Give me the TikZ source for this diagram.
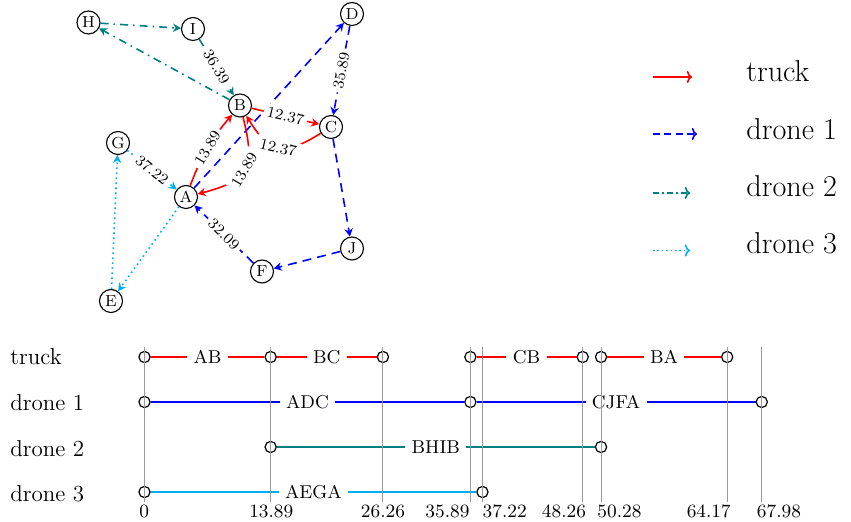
\documentclass[tikz,border=0pt]{standalone}
\usetikzlibrary{arrows.meta}
\definecolor{trk}{RGB}{255,0,0}
\definecolor{dA}{RGB}{0,0,255}
\definecolor{dB}{RGB}{0,128,128}
\definecolor{dC}{RGB}{0,174,239}
\newcommand{\tmx}[1]{144.5+9.08*#1}
\tikzset{
  gnode/.style={circle, draw, line width=0.55pt, minimum size=11.5pt, inner sep=0pt, fill=white, font=\fontsize{8}{9}\selectfont},
  elabel/.style={midway, sloped, fill=white, text=black, inner sep=1.8pt, font=\fontsize{7.7}{9}\selectfont},
  etip/.style={-{Stealth[length=4pt,width=4.2pt,inset=1.3pt]}},
  truckedge/.style={trk, line width=0.8pt, etip},
  droneAedge/.style={dA, line width=0.8pt, dash pattern=on 4.5pt off 3pt, etip},
  droneBedge/.style={dB, line width=0.8pt, dash pattern=on 4pt off 2.5pt on 0.8pt off 2.5pt, etip},
  droneCedge/.style={dC, line width=0.8pt, dash pattern=on 0.8pt off 1.7pt, etip},
  legtip/.style={-{To[length=2.6pt,width=6pt]}},
  legtruck/.style={trk, line width=0.8pt, legtip},
  legA/.style={dA, line width=0.8pt, dash pattern=on 3.5pt off 2.2pt, legtip},
  legB/.style={dB, line width=0.8pt, dash pattern=on 3pt off 1.6pt on 0.8pt off 1.6pt, legtip},
  legC/.style={dC, line width=0.8pt, dash pattern=on 0.8pt off 1.4pt, legtip},
  legtext/.style={anchor=base west, inner sep=0pt, font=\fontsize{15.1}{18}\selectfont},
  rowtext/.style={anchor=base west, inner sep=0pt, font=\fontsize{11.5}{14}\selectfont},
  tcirc/.style={circle, draw=black, line width=0.6pt, minimum size=5.6pt, inner sep=0pt, fill=white},
  seglabel/.style={midway, fill=white, text=black, inner xsep=3.2pt, inner ysep=2pt, font=\fontsize{9.3}{11}\selectfont},
  tline/.style={line width=1pt},
  gridline/.style={gray!80, line width=0.55pt},
  ticklabel/.style={anchor=base, inner sep=0pt, font=\fontsize{9.4}{11}\selectfont}
}
\begin{document}
\begin{tikzpicture}[x=0.5pt,y=-0.5pt]
\useasboundingbox (0,0) rectangle (851,522);

% ---------- graph nodes ----------
\node[gnode] (H) at (88.5,22.5) {H};
\node[gnode] (I) at (193,29) {I};
\node[gnode] (D) at (352,14) {D};
\node[gnode] (B) at (240,105.5) {B};
\node[gnode] (C) at (331,127) {C};
\node[gnode] (G) at (118,143) {G};
\node[gnode] (A) at (186,197) {A};
\node[gnode] (J) at (352,248.5) {J};
\node[gnode] (F) at (262,271.5) {F};
\node[gnode] (E) at (111,301) {E};

% ---------- drone 2 ----------
\draw[droneBedge] (H) -- (I);
\draw[droneBedge] (I) -- node[elabel]{36.39} (B);
\draw[droneBedge] (B) -- (H);
% ---------- drone 3 ----------
\draw[droneCedge] (A) -- (E);
\draw[droneCedge] (E) -- (G);
\draw[droneCedge] (G) -- node[elabel]{37.22} (A);
% ---------- drone 1 ----------
\draw[droneAedge] (A) -- (D);
\draw[droneAedge] (D) -- node[elabel]{35.89} (C);
\draw[droneAedge] (C) -- (J);
\draw[droneAedge] (J) -- (F);
\draw[droneAedge] (F) -- node[elabel]{32.09} (A);
% ---------- truck ----------
\draw[truckedge] (A) to[bend left=10] node[elabel]{13.89} (B);
\draw[truckedge] (B) -- node[elabel]{12.37} (C);
\draw[truckedge] (C) to[bend left=45, looseness=1.5] node[elabel]{12.37} (B);
\draw[truckedge] (B) to[bend left=45, looseness=1.5] node[elabel]{13.89} (A);

% ---------- legend ----------
\coordinate (l1s) at (653,77);   \coordinate (l1e) at (692,77);
\coordinate (l2s) at (653,134);  \coordinate (l2e) at (697,134);
\coordinate (l3s) at (653,193);  \coordinate (l3e) at (690,193);
\coordinate (l4s) at (653,250.5);\coordinate (l4e) at (690,250.5);
\draw[legtruck] (l1s) -- (l1e);
\draw[legA] (l2s) -- (l2e);
\draw[legB] (l3s) -- (l3e);
\draw[legC] (l4s) -- (l4e);
\node[legtext] (lt1) at (746,82) {truck};
\node[legtext] (lt2) at (746,140) {drone 1};
\node[legtext] (lt3) at (746,196.5) {drone 2};
\node[legtext] (lt4) at (746,253.5) {drone 3};

% ---------- timeline row labels ----------
\node[rowtext] (r1) at (10,365) {truck};
\node[rowtext] (r2) at (10,411) {drone 1};
\node[rowtext] (r3) at (10,456.5) {drone 2};
\node[rowtext] (r4) at (10,501.5) {drone 3};

% ---------- timeline markers ----------
\node[tcirc] (t0) at ({\tmx{0}},357) {};
\node[tcirc] (t1) at ({\tmx{13.89}},357) {};
\node[tcirc] (t2) at ({\tmx{26.26}},357) {};
\node[tcirc] (t3) at ({\tmx{35.89}},357) {};
\node[tcirc] (t4) at ({\tmx{48.26}},357) {};
\node[tcirc] (t5) at ({\tmx{50.28}},357) {};
\node[tcirc] (t6) at ({\tmx{64.17}},357) {};
\node[tcirc] (a0) at ({\tmx{0}},402) {};
\node[tcirc] (a1) at ({\tmx{35.89}},402) {};
\node[tcirc] (a2) at ({\tmx{67.98}},402) {};
\node[tcirc] (b0) at ({\tmx{13.89}},447) {};
\node[tcirc] (b1) at ({\tmx{50.28}},447) {};
\node[tcirc] (c0) at ({\tmx{0}},492) {};
\node[tcirc] (c1) at ({\tmx{37.22}},492) {};

% ---------- timeline segments ----------
\draw[tline, trk] (t0) -- node[seglabel]{AB} (t1);
\draw[tline, trk] (t1) -- node[seglabel]{BC} (t2);
\draw[tline, trk] (t3) -- node[seglabel]{CB} (t4);
\draw[tline, trk] (t5) -- node[seglabel]{BA} (t6);
\draw[tline, dA] (a0) -- node[seglabel]{ADC} (a1);
\draw[tline, dA] (a1) -- node[seglabel]{CJFA} (a2);
\draw[tline, dB] (b0) -- node[seglabel]{BHIB} (b1);
\draw[tline, dC] (c0) -- node[seglabel]{AEGA} (c1);

% ---------- vertical time lines (on top) ----------
\foreach \t in {0,13.89,26.26,35.89,37.22,48.26,50.28,64.17,67.98}
  \draw[gridline] ({\tmx{\t}},347) -- ({\tmx{\t}},502);

% ---------- tick labels ----------
\node[ticklabel] (k0) at (144.2,517.5) {0};
\node[ticklabel] (k1) at (271.3,517.5) {13.89};
\node[ticklabel] (k2) at (383,517.5) {26.26};
\node[ticklabel] (k3) at (447.5,517.5) {35.89};
\node[ticklabel] (k4) at (504.7,517.5) {37.22};
\node[ticklabel] (k5) at (564,517.5) {48.26};
\node[ticklabel] (k6) at (619.5,517.5) {50.28};
\node[ticklabel] (k7) at (708.8,517.5) {64.17};
\node[ticklabel] (k8) at (779,517.5) {67.98};
\end{tikzpicture}
\end{document}
